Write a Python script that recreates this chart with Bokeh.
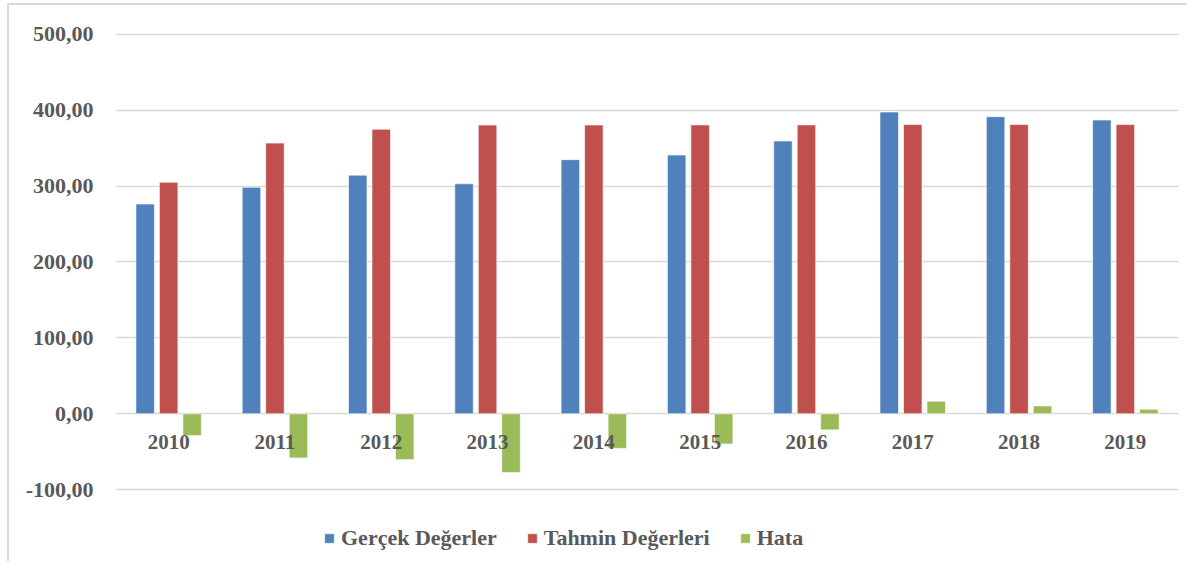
from bokeh.plotting import figure
from bokeh.models import (ColumnDataSource, FactorRange, Range1d, FixedTicker,
                          Legend, LegendItem)
from bokeh.transform import dodge
from bokeh.core.properties import value
from bokeh.embed import file_html
from bokeh.resources import INLINE

years = ["2010", "2011", "2012", "2013", "2014", "2015", "2016", "2017", "2018", "2019"]
gercek = [276.3, 298.4, 314.4, 303.0, 334.8, 340.8, 359.4, 397.5, 391.4, 387.0]
tahmin = [305.0, 356.6, 374.8, 380.3, 380.4, 380.6, 380.6, 381.0, 381.0, 381.0]
hata = [-28.7, -58.2, -60.4, -77.3, -45.6, -39.8, -21.2, 16.5, 10.4, 6.0]
yticks = [-100, 0, 100, 200, 300, 400, 500]
ytick_labels = ["-100,00", "0,00", "100,00", "200,00", "300,00", "400,00", "500,00"]
series_names = ["Gerçek Değerler", "Tahmin Değerleri", "Hata"]

BLUE, RED, GREEN = "#4F81BD", "#C0504D", "#9BBB59"
TXT = "#595959"
FONT = "Liberation Serif"

src = ColumnDataSource(dict(year=years, gercek=gercek, tahmin=tahmin, hata=hata,
                            zero=[0] * len(years)))

# frame runs from y=33 to the bottom edge (room for the legend inside it);
# 0.7591 px per unit keeps the -100..500 grid where the reference has it
p = figure(width=1187, height=561, output_backend="svg", toolbar_location=None,
           x_range=FactorRange(*years, range_padding=0),
           y_range=Range1d(-194.6, 501),
           min_border_left=115, min_border_right=9,
           min_border_top=33, min_border_bottom=0)
p.border_fill_alpha = 0
p.background_fill_alpha = 0
p.styles = {
    "background-image": "linear-gradient(#d9d9d9,#d9d9d9), linear-gradient(#d9d9d9,#d9d9d9)",
    "background-size": "2px 100%, 100% 2px",
    "background-position": "7px 3px, 7px 3px",
    "background-repeat": "no-repeat",
}
p.outline_line_color = None

w = 0.174
off = 0.221
r1 = p.vbar(x=dodge("year", -off, range=p.x_range), top="gercek", width=w, source=src,
            fill_color=BLUE, line_color="white", line_alpha=0.6)
r2 = p.vbar(x=dodge("year", 0, range=p.x_range), top="tahmin", width=w, source=src,
            fill_color=RED, line_color="white", line_alpha=0.6)
r3 = p.vbar(x=dodge("year", off, range=p.x_range), top="hata", width=w, source=src,
            fill_color=GREEN, line_color="white", line_alpha=0.6)

# category labels along the zero line
p.text(x="year", y="zero", text="year", source=src, y_offset=28,
       text_align="center", text_baseline="middle",
       text_font=value(FONT), text_font_style="bold", text_font_size="21px",
       text_color=TXT)

p.xaxis.visible = False
p.xgrid.grid_line_color = None
p.yaxis.ticker = FixedTicker(ticks=yticks)
p.yaxis.major_label_overrides = {t: l for t, l in zip(yticks, ytick_labels)}
p.yaxis.axis_line_color = None
p.yaxis.major_tick_line_color = None
p.yaxis.minor_tick_line_color = None
p.yaxis.major_tick_out = 0
p.yaxis.major_tick_in = 0
p.yaxis.major_label_standoff = 22
p.yaxis.major_label_text_font = FONT
p.yaxis.major_label_text_font_style = "bold"
p.yaxis.major_label_text_font_size = "22px"
p.yaxis.major_label_text_color = TXT
p.ygrid.ticker = FixedTicker(ticks=yticks)
p.ygrid.grid_line_color = "#d9d9d9"
p.ygrid.grid_line_width = 1.6

legend = Legend(items=[LegendItem(label=series_names[0], renderers=[r1]),
                       LegendItem(label=series_names[1], renderers=[r2]),
                       LegendItem(label=series_names[2], renderers=[r3])],
                orientation="horizontal", location=(208, 10),
                glyph_width=12, glyph_height=12, label_standoff=6, spacing=29,
                padding=0, margin=0, border_line_color=None,
                background_fill_alpha=0, label_height=20,
                label_text_font=FONT, label_text_font_style="bold",
                label_text_font_size="22px", label_text_color=TXT)
p.add_layout(legend, "center")

open("out.html", "w").write(file_html(p, INLINE))
